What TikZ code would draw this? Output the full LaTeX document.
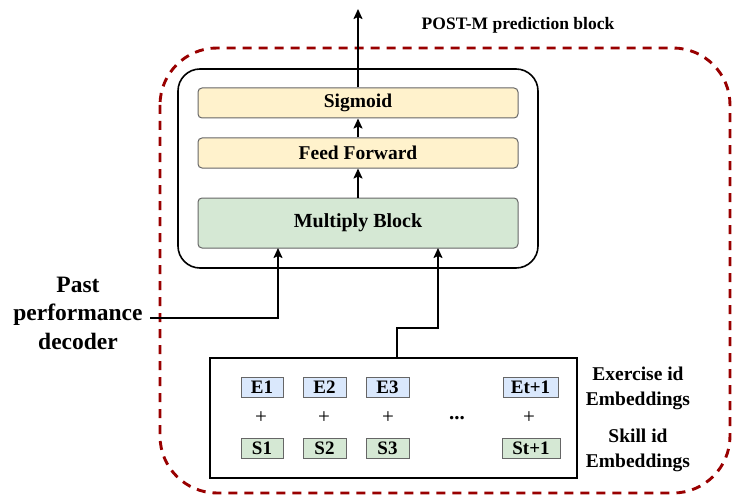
\documentclass[tikz,border=0pt]{standalone}
\usepackage{fontspec}
\setmainfont{Liberation Serif}
\usetikzlibrary{arrows.meta}
\definecolor{dred}{HTML}{990000}
\definecolor{yfill}{HTML}{FFF2CC}
\definecolor{gfill}{HTML}{D5E8D4}
\definecolor{bfill}{HTML}{DAE8FC}
\definecolor{bstroke}{HTML}{666666}
\begin{document}
\begin{tikzpicture}[x=1pt,y=-1pt,
  layer/.style={draw=bstroke,line width=1pt,rounded corners=4pt,minimum width=320pt,inner sep=0pt,font=\fontsize{19.5}{22}\selectfont\bfseries},
  ebox/.style={draw=bstroke,fill=bfill,line width=1pt,minimum height=20pt,inner sep=0pt,font=\fontsize{19}{21}\selectfont\bfseries},
  sbox/.style={draw=bstroke,fill=gfill,line width=1pt,minimum height=20pt,inner sep=0pt,font=\fontsize{19}{21}\selectfont\bfseries},
  lbl/.style={font=\fontsize{19.5}{25}\selectfont\bfseries,align=center,inner sep=0pt},
  plus/.style={font=\fontsize{21}{22}\selectfont,inner sep=0pt},
  conn/.style={line width=1.8pt,-{Stealth[length=10pt,width=9pt,inset=2pt]}},
  wire/.style={line width=1.8pt}
]
\useasboundingbox (0,0) rectangle (732,495);
% dashed outer block
\draw[dred,line width=2.9pt,dash pattern=on 9pt off 7pt,rounded corners=57pt] (160,48) rectangle (730,493);
\node[lbl,font=\fontsize{17.5}{20}\selectfont\bfseries] (title) at (518,25) {POST-M prediction block};
% inner rounded box
\draw[line width=1.6pt,rounded corners=22pt] (178,69) rectangle (538,268);
\node[layer,fill=yfill,minimum height=30pt] (sig) at (358,103) {Sigmoid};
\node[layer,fill=yfill,minimum height=30pt] (ff) at (358,153) {Feed Forward};
\node[layer,fill=gfill,minimum height=50pt,font=\fontsize{20}{22}\selectfont\bfseries] (mul) at (358,223) {Multiply Block};
\coordinate (out) at (358,9);
\draw[conn] (sig.north) -- (out);
\draw[conn] (ff.north) -- (sig.south);
\draw[conn] (mul.north) -- (ff.south);
% past performance decoder
\node[lbl,font=\fontsize{23.5}{28.5}\selectfont\bfseries] (past) at (78,313) {Past\\performance\\decoder};
\coordinate (pastend) at (150,318);
\draw[conn] (pastend) -| (278,248);
% embeddings box
\node[draw,line width=1.6pt,minimum width=367pt,minimum height=120pt,inner sep=0pt] (emb) at (393.5,418) {};
\draw[conn] (397,358) -- (397,328) -| (438,248);
\node[ebox,minimum width=42pt] (e1) at (262,387) {E1};
\node[ebox,minimum width=43pt] (e2) at (324.5,387) {E2};
\node[ebox,minimum width=43pt] (e3) at (387.5,387) {E3};
\node[ebox,minimum width=55pt] (et) at (530.5,387) {Et+1};
\node[sbox,minimum width=42pt] (s1) at (262,448) {S1};
\node[sbox,minimum width=43pt] (s2) at (324.5,448) {S2};
\node[sbox,minimum width=43pt] (s3) at (387.5,448) {S3};
\node[sbox,minimum width=58pt] (st) at (531,448) {St+1};
\node[plus] (p1) at (261,418) {+};
\node[plus] (p2) at (324,418) {+};
\node[plus] (p3) at (388,418) {+};
\node[plus] (pd) at (457,418) {\textbf{...}};
\node[plus] (p4) at (529,418) {+};
\node[lbl] (exl) at (638,388) {Exercise id\\Embeddings};
\node[lbl] (skl) at (638,450) {Skill id\\Embeddings};
\end{tikzpicture}
\end{document}
